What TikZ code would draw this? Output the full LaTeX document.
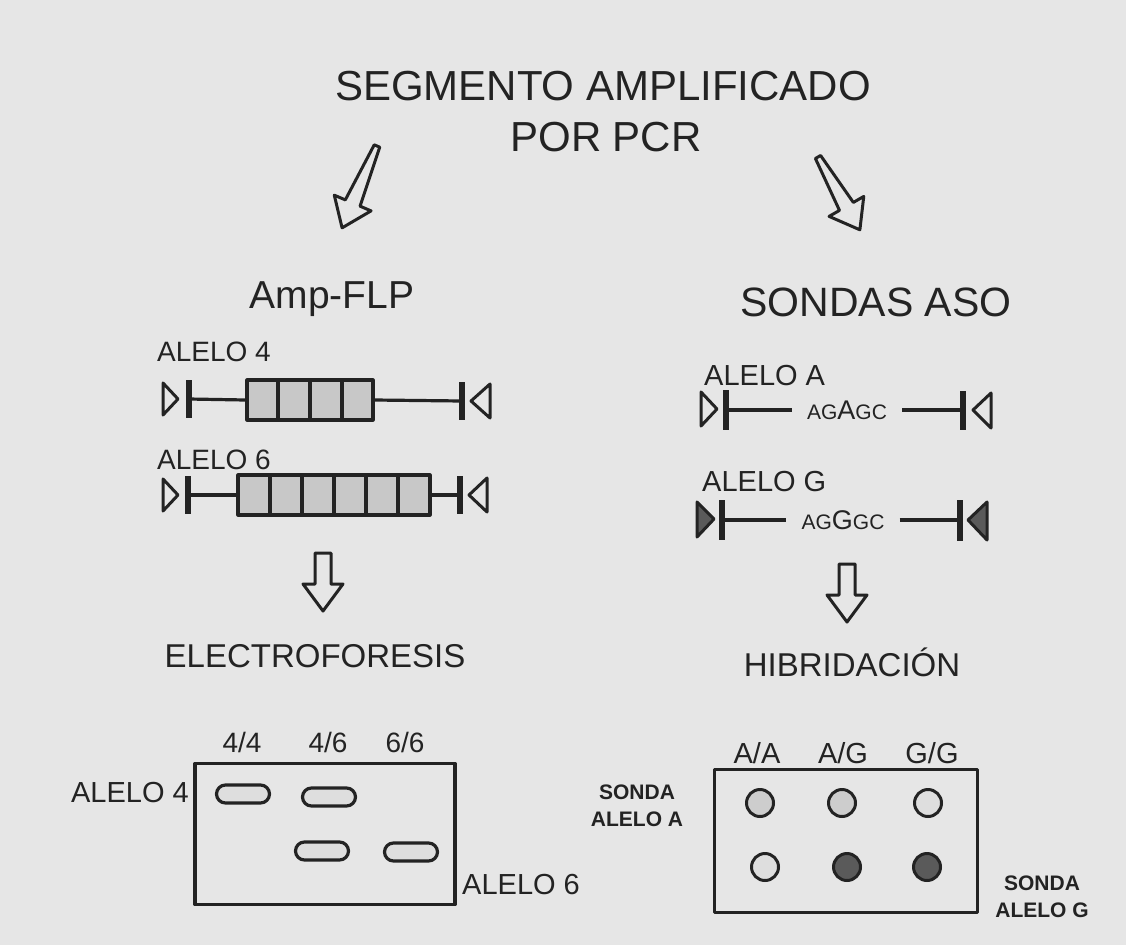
\documentclass[tikz,border=0pt]{standalone}
\usepackage{fontspec}
\setmainfont{Liberation Sans}
\definecolor{bg}{RGB}{230,230,230}
\definecolor{ink}{RGB}{35,35,35}
\definecolor{cellgray}{RGB}{200,200,200}
\definecolor{spotdark}{RGB}{90,90,90}
\definecolor{spotmid}{RGB}{205,205,205}
\definecolor{spotlight}{RGB}{222,222,222}
\newcommand\fs[1]{\fontsize{#1}{#1}\selectfont}
% x y angle length base-half-width
\newcommand\blockarrow[5]{%
  \draw[harrow,shift={(#1,#2)},rotate=#3] (0,-#5) -- ({#4-27},-8) -- ({#4-27},-20) -- (#4,0) -- ({#4-27},20) -- ({#4-27},8) -- (0,#5) -- cycle;}
\begin{document}
\begin{tikzpicture}[x=1pt,y=-1pt,line join=round,
  harrow/.style={draw=ink,line width=3pt,fill=bg},
  txt/.style={inner sep=0pt,text=ink},
  ln/.style={draw=ink,line width=3.2pt},
  barline/.style={draw=ink,line width=5.5pt},
  tri/.style={draw=ink,line width=3pt,fill=bg},
  trifill/.style={draw=ink,line width=3pt,fill=spotdark},
  repbox/.style={draw=ink,line width=3.2pt,fill=cellgray,minimum height=40pt,inner sep=0pt},
  seq/.style={inner xsep=15pt,inner ysep=0pt,text=ink},
  frame/.style={draw=ink,line width=3.2pt,inner sep=0pt},
  band/.style={draw=ink,line width=3.2pt,fill=spotlight,rounded corners=9pt,minimum width=53pt,minimum height=18pt,inner sep=0pt},
  spot/.style={circle,draw=ink,line width=3pt,minimum size=27pt,inner sep=0pt}]
\useasboundingbox (0,0) rectangle (1126,945);
\fill[bg] (0,0) rectangle (1126,945);

% title
\node[txt,font=\fs{42}] (t1) at (603,86) {SEGMENTO AMPLIFICADO};
\node[txt,font=\fs{42}] (t2) at (606,137) {POR PCR};

% arrows from title
\blockarrow{377}{146}{-113.1}{89}{3}
\blockarrow{818}{157}{-60.1}{84}{3}

% headings
\node[txt,font=\fs{39}] (amp) at (332,299) {Amp-FLP};
\node[txt,font=\fs{41}] (aso) at (876,302) {SONDAS ASO};

% ---- Amp-FLP alleles
\node[txt,font=\fs{28},anchor=west] (al4) at (157,352) {ALELO 4};
\draw[tri] (163,383) -- (163,415) -- (178,399) -- cycle;
\draw[barline] (189,380) -- (189,418);
\coordinate (l4) at (189,399);
\node[repbox,minimum width=126pt] (box4) at (310,400) {};
\foreach \x in {278,310,342} \draw[ln] (\x,380) -- (\x,420);
\coordinate (r4) at (462,401);
\draw[ln] (l4) -- (box4.west);
\draw[ln] (box4.east) -- (r4);
\draw[barline] (462,382) -- (462,420);
\draw[tri] (490,384) -- (490,418) -- (471,401) -- cycle;

\node[txt,font=\fs{28},anchor=west] (al6) at (157,460) {ALELO 6};
\draw[tri] (163,479) -- (163,511) -- (178,495) -- cycle;
\draw[barline] (188,476) -- (188,514);
\coordinate (l6) at (188,495);
\node[repbox,minimum width=192pt] (box6) at (334,495) {};
\foreach \x in {270,302,334,366,398} \draw[ln] (\x,475) -- (\x,515);
\coordinate (r6) at (460,495);
\draw[ln] (l6) -- (box6.west);
\draw[ln] (box6.east) -- (r6);
\draw[barline] (460,476) -- (460,514);
\draw[tri] (487,478) -- (487,512) -- (469,495) -- cycle;

% ---- ASO alleles
\node[txt,font=\fs{29},anchor=west] (ala) at (704,376) {ALELO A};
\draw[tri] (701,392) -- (701,426) -- (717,409) -- cycle;
\draw[barline] (726,390) -- (726,430);
\coordinate (la) at (726,410);
\node[seq] (seqa) at (847,410) {\fs{21}AG\fs{27}A\fs{21}GC};
\coordinate (ra) at (963,410);
\draw[ln] (la) -- (seqa.west);
\draw[ln] (seqa.east) -- (ra);
\draw[barline] (963,391) -- (963,430);
\draw[tri] (991,393) -- (991,428) -- (973,410) -- cycle;

\node[txt,font=\fs{29},anchor=west] (alg) at (702,482) {ALELO G};
\draw[trifill] (697,502) -- (697,537) -- (714,519) -- cycle;
\draw[barline] (722,500) -- (722,540);
\coordinate (lg) at (722,520);
\node[seq] (seqg) at (843,520) {\fs{21}AG\fs{27}G\fs{21}GC};
\coordinate (rg) at (960,520);
\draw[ln] (lg) -- (seqg.west);
\draw[ln] (seqg.east) -- (rg);
\draw[barline] (960,500) -- (960,541);
\draw[trifill] (987,502) -- (987,540) -- (968,520) -- cycle;

% down arrows
\blockarrow{323}{553}{-90}{58}{8}
\blockarrow{847}{564}{-90}{58}{8}

\node[txt,font=\fs{33}] (elec) at (315,656) {ELECTROFORESIS};
\node[txt,font=\fs{33}] (hib) at (852,662) {HIBRIDACIÓN};

% ---- gel
\node[txt,font=\fs{28}] (g44) at (242,742) {4/4};
\node[txt,font=\fs{28}] (g46) at (328,742) {4/6};
\node[txt,font=\fs{28}] (g66) at (405,742) {6/6};
\node[frame,minimum width=260pt,minimum height=141pt] (gel) at (325,834) {};
\node[txt,font=\fs{29},anchor=east] (gal4) at (189,793) {ALELO 4};
\node[txt,font=\fs{29},anchor=west] (gal6) at (462,885) {ALELO 6};
\node[band] (b1) at (243,794) {};
\node[band] (b2) at (329,797) {};
\node[band] (b3) at (322,851) {};
\node[band] (b4) at (411,852) {};

% ---- dot blot
\node[txt,font=\fs{29}] (daa) at (757,753) {A/A};
\node[txt,font=\fs{29}] (dag) at (843,753) {A/G};
\node[txt,font=\fs{29}] (dgg) at (932,753) {G/G};
\node[frame,minimum width=263pt,minimum height=143pt] (dot) at (846,841) {};
\node[txt,font=\bfseries\fs{21},align=center] (sa) at (637,806) {SONDA\\[6pt]ALELO A};
\node[txt,font=\bfseries\fs{21},align=center] (sg) at (1042,897) {SONDA\\[6pt]ALELO G};
\node[spot,fill=spotmid] (s11) at (760,803) {};
\node[spot,fill=spotmid] (s12) at (842,803) {};
\node[spot,fill=spotlight] (s13) at (928,803) {};
\node[spot,fill=spotlight] (s21) at (765,867) {};
\node[spot,fill=spotdark] (s22) at (847,867) {};
\node[spot,fill=spotdark] (s23) at (927,867) {};
\end{tikzpicture}
\end{document}
